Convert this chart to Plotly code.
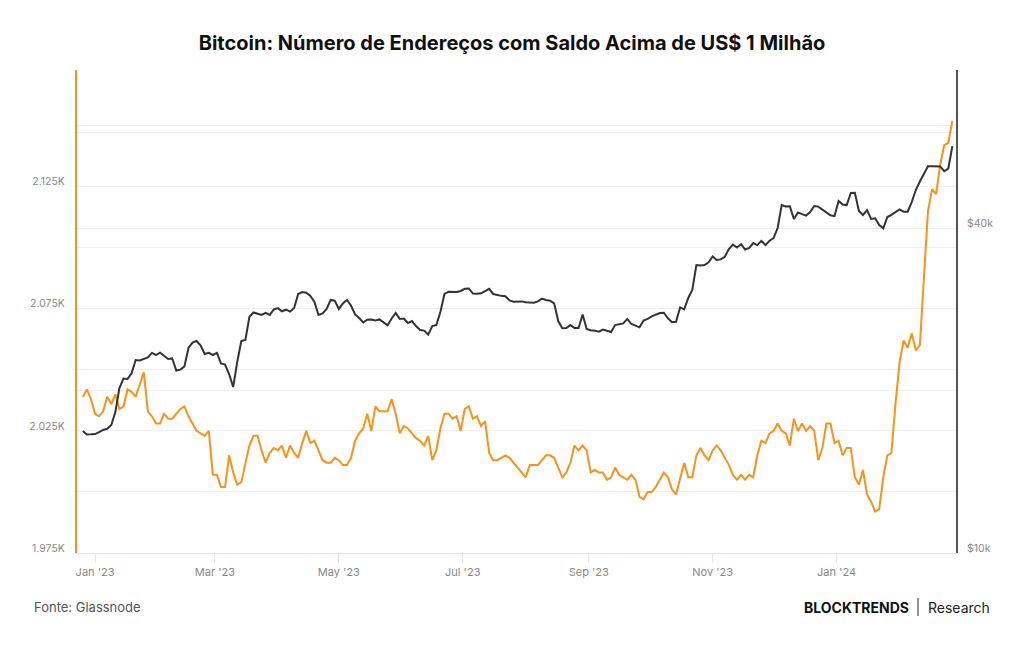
import plotly.graph_objects as go
import pandas as pd

start_date = "2022-12-26"

addresses = [
    2039, 2042, 2038, 2032, 2031, 2033, 2039, 2036, 2040, 2034,
    2035, 2042, 2041, 2039, 2044, 2049, 2033, 2031, 2028, 2028,
    2032, 2030, 2030, 2032, 2034, 2035, 2031, 2028, 2025, 2024,
    2023, 2025, 2007, 2007, 2002, 2002, 2015, 2008, 2003, 2004,
    2012, 2019, 2023, 2023, 2017, 2012, 2016, 2018, 2017, 2019,
    2014, 2019, 2016, 2014, 2020, 2025, 2020, 2021, 2017, 2013,
    2012, 2012, 2014, 2013, 2011, 2011, 2014, 2021, 2024, 2026,
    2032, 2025, 2035, 2033, 2033, 2033, 2038, 2032, 2024, 2027,
    2026, 2024, 2022, 2021, 2019, 2023, 2013, 2017, 2026, 2032,
    2032, 2030, 2031, 2025, 2034, 2035, 2030, 2031, 2027, 2029,
    2016, 2013, 2013, 2014, 2015, 2014, 2012, 2010, 2008, 2006,
    2011, 2011, 2011, 2013, 2015, 2015, 2014, 2010, 2006, 2008,
    2012, 2019, 2017, 2019, 2017, 2008, 2009, 2008, 2008, 2005,
    2006, 2010, 2007, 2006, 2005, 2007, 2005, 1998, 1997, 2000,
    2000, 2002, 2005, 2008, 2006, 2001, 1999, 2006, 2012, 2006,
    2006, 2015, 2018, 2015, 2013, 2017, 2019, 2017, 2014, 2011,
    2007, 2005, 2007, 2005, 2007, 2006, 2015, 2021, 2020, 2024,
    2025, 2028, 2025, 2024, 2019, 2030, 2025, 2028, 2025, 2027,
    2025, 2013, 2018, 2028, 2028, 2020, 2021, 2015, 2018, 2018,
    2006, 2003, 2009, 1999, 1996, 1992, 1993, 2006, 2015, 2016,
    2036, 2053, 2062, 2059, 2065, 2058, 2060, 2086, 2115, 2124,
    2122, 2134, 2142, 2143, 2152,
]

btc_price = [
    16830, 16580, 16590, 16610, 16740, 16900, 16990, 17260, 18240, 20210,
    21050, 21010, 21520, 22780, 22730, 22880, 23040, 23480, 23270, 23510,
    23220, 22880, 22930, 21780, 21860, 22160, 23980, 24530, 24700, 24230,
    23370, 23480, 23270, 23480, 22440, 22340, 21460, 20300, 22590, 24700,
    24810, 27400, 27900, 27720, 27600, 27860, 27600, 28260, 28420, 28040,
    28230, 28000, 28440, 30190, 30430, 30360, 29930, 29180, 27600, 27780,
    28320, 29430, 29340, 28320, 28990, 29430, 28740, 27660, 27250, 26730,
    27060, 27080, 26960, 27080, 26730, 26410, 27190, 27830, 27140, 27190,
    26670, 26900, 26330, 25890, 25820, 25390, 26330, 26440, 27960, 30190,
    30490, 30490, 30450, 30580, 30870, 30910, 30250, 30210, 30280, 30550,
    30850, 30190, 30020, 29950, 29890, 29370, 29220, 29250, 29250, 29150,
    29160, 29080, 29250, 29590, 29430, 29340, 29010, 26900, 26090, 26110,
    26440, 26110, 26110, 27660, 26000, 25860, 25820, 25700, 25940, 25810,
    25670, 26440, 26530, 26630, 27140, 26560, 26380, 26190, 26960, 27140,
    27430, 27630, 27830, 27870, 27220, 26760, 26820, 28520, 28280, 29680,
    30710, 34160, 34080, 34160, 34570, 35420, 34900, 34990, 35390, 36580,
    37260, 36800, 37350, 36500, 36730, 37510, 37190, 37870, 37190, 37890,
    38320, 40000, 44120, 43840, 43870, 41570, 42730, 42450, 42180, 42820,
    43940, 43820, 43280, 42730, 42230, 42080, 44880, 44210, 44120, 46440,
    46500, 43010, 42300, 43190, 41570, 41690, 40510, 39950, 41920, 42300,
    42820, 43320, 42880, 42880, 44690, 47040, 48780, 50560, 52050, 52070,
    52040, 52010, 50960, 51550, 56740,
]

dates = pd.date_range(start_date, periods=len(addresses), freq="2D")

left_tickvals = [1975, 2000, 2025, 2050, 2075, 2100, 2125, 2150]
left_ticktext = ["1.975K", "", "2.025K", "", "2.075K", "", "2.125K", ""]
right_tickvals = [10000, 20000, 40000, 60000]
right_ticktext = ["$10k", "", "$40k", ""]

TITLE = "Bitcoin: Número de Endereços com Saldo Acima de US$ 1 Milhão"
ORANGE = "#f7931a"
DARK = "#333333"
GRID = "#efefef"
TICKFONT = dict(family="Inter", size=10.5, color="#888888")

fig = go.Figure()
fig.add_trace(go.Scatter(x=dates, y=addresses, mode="lines",
                         line=dict(color=ORANGE, width=2), yaxis="y",
                         name="Endereços > US$ 1M"))
fig.add_trace(go.Scatter(x=dates, y=btc_price, mode="lines",
                         line=dict(color=DARK, width=2), yaxis="y2",
                         name="Preço BTC"))

fig.update_layout(
    width=1024, height=645,
    margin=dict(l=77, r=68, t=70, b=92),
    paper_bgcolor="white", plot_bgcolor="white",
    showlegend=False,
    font=dict(family="Inter"),
    title=dict(text="<b>" + TITLE + "</b>", x=0.5, xref="container",
               xanchor="center", y=1 - 43 / 645, yref="container",
               yanchor="middle",
               font=dict(family="Inter", size=20, color="#111111")),
    xaxis=dict(
        type="date",
        range=["2022-12-23 03:00", "2024-02-28 19:00"],
        tick0="2023-01-01", dtick="M2", tickformat="%b '%y",
        showgrid=False, zeroline=False,
        showline=True, linecolor="#e6e6e6", linewidth=1,
        ticks="outside", ticklen=9, tickcolor="#e6e6e6",
        tickfont=dict(family="Inter", size=11, color="#888888"),
    ),
    yaxis=dict(
        range=[1975, 2172.8],
        tickvals=left_tickvals, ticktext=left_ticktext,
        showgrid=True, gridcolor=GRID, gridwidth=1, zeroline=False,
        showline=True, linecolor=ORANGE, linewidth=2,
        ticks="outside", ticklen=8, tickcolor="rgba(0,0,0,0)",
        ticklabelshift=-5,
        tickfont=TICKFONT,
    ),
    yaxis2=dict(
        type="log", range=[4, 4.8948],
        overlaying="y", side="right",
        tickvals=right_tickvals, ticktext=right_ticktext,
        showgrid=True, gridcolor=GRID, gridwidth=1, zeroline=False,
        showline=True, linecolor="#555555", linewidth=2,
        ticks="outside", ticklen=7, tickcolor="rgba(0,0,0,0)",
        ticklabelshift=-5,
        tickfont=TICKFONT,
    ),
)

def px_x(px):
    return (px - 77) / 879.0

def px_y(py):
    return (553 - py) / 483.0

fig.add_annotation(text="Fonte: Glassnode", xref="paper", yref="paper",
                   x=px_x(32), y=px_y(607), xanchor="left", yanchor="middle",
                   showarrow=False,
                   font=dict(family="Inter", size=13, color="#555555"))
fig.add_annotation(text="<b>BLOCKTRENDS</b>", xref="paper", yref="paper",
                   x=px_x(911), y=px_y(607), xanchor="right", yanchor="middle",
                   showarrow=False,
                   font=dict(family="Inter", size=14, color="#111111"))
fig.add_annotation(text="Research", xref="paper", yref="paper",
                   x=px_x(926), y=px_y(607), xanchor="left", yanchor="middle",
                   showarrow=False,
                   font=dict(family="Inter", size=14, color="#222222"))
fig.add_shape(type="line", xref="paper", yref="paper",
              x0=px_x(918), x1=px_x(918), y0=px_y(598), y1=px_y(616),
              line=dict(color="#222222", width=1))

fig.write_html("out.html")
